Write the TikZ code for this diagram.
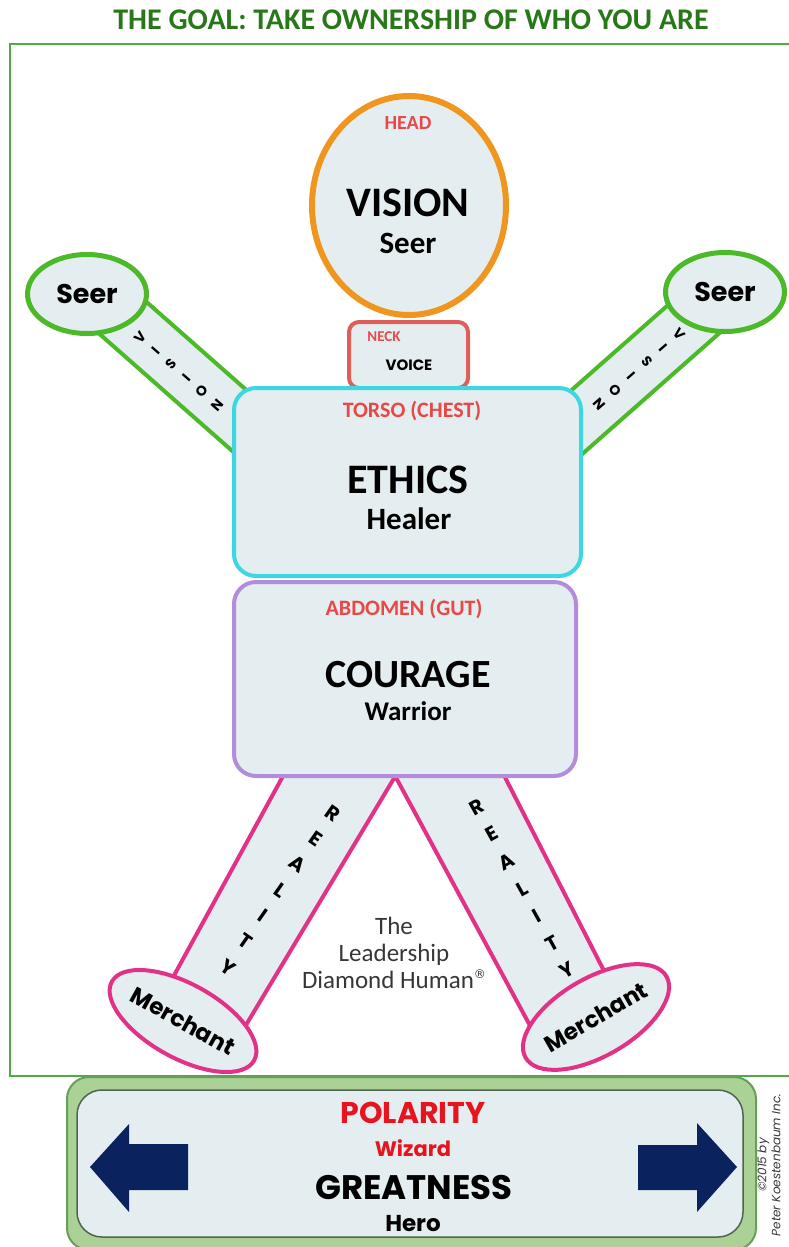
\documentclass[tikz,border=0pt]{standalone}
\usepackage{fontspec}
\setmainfont{Carlito}
\newfontfamily\gothic{Poppins}
\newfontfamily\dejavu{DejaVu Sans}
\usetikzlibrary{shapes.geometric}
\definecolor{titlegreen}{RGB}{40,120,25}
\definecolor{framegreen}{RGB}{80,170,70}
\definecolor{bodyfill}{RGB}{228,237,239}
\definecolor{headorange}{RGB}{240,150,30}
\definecolor{labred}{RGB}{232,72,72}
\definecolor{neckred}{RGB}{222,95,90}
\definecolor{torsocyan}{RGB}{60,215,225}
\definecolor{abdpurple}{RGB}{180,140,220}
\definecolor{armgreen}{RGB}{76,185,40}
\definecolor{legpink}{RGB}{225,50,135}
\definecolor{polred}{RGB}{230,20,30}
\definecolor{botfill}{RGB}{170,210,150}
\definecolor{botborder}{RGB}{100,160,90}
\definecolor{innerborder}{RGB}{80,100,80}
\definecolor{navy}{RGB}{10,35,95}
\definecolor{textgray}{RGB}{55,55,55}
\newcommand\myfs[1]{\fontsize{#1}{#1}\selectfont}
\begin{document}
\begin{tikzpicture}[x=1pt,y=-1pt,
  part/.style={draw, fill=bodyfill, inner sep=0pt},
  lbl/.style={font=\bfseries, inner sep=0pt},
  armband/.style={draw=armgreen, fill=bodyfill, line width=4pt, line join=round},
  legband/.style={draw=legpink, fill=bodyfill, line width=4pt, line join=round},
  armletter/.style={font=\gothic\bfseries\myfs{14}, inner sep=0pt},
  legletter/.style={font=\gothic\bfseries\myfs{20}, inner sep=0pt},
  arrowshape/.style={fill=navy, draw=none}]
\useasboundingbox (0,0) rectangle (789,1247);
% title and frame
\node[lbl, text=titlegreen, font=\bfseries\myfs{30}] (title) at (411,20) {THE GOAL: TAKE OWNERSHIP OF WHO YOU ARE};
\draw[framegreen, line width=2pt] (10,44) rectangle (794,1076);
% arms
\draw[armband] (120,278.6) -- (288,426.7) -- (251.6,468) -- (83.6,319.9) -- cycle;
\draw[armband] (698,278.6) -- (530,426.7) -- (566.4,468) -- (734.4,319.9) -- cycle;
% legs
\draw[legband] (286.3,770) -- (399,770) -- (237,1040) -- (160.6,1000) -- cycle;
\draw[legband] (391.9,770) -- (501.3,770) -- (613.8,990) -- (537.8,1040) -- cycle;
% hands and feet
\node[part, ellipse, draw=armgreen, line width=5pt, minimum width=119pt, minimum height=79pt,
  font=\gothic\bfseries\myfs{27}] (lseer) at (87,294) {Seer};
\node[part, ellipse, draw=armgreen, line width=5pt, minimum width=119pt, minimum height=79pt,
  font=\gothic\bfseries\myfs{27}] (rseer) at (725,292) {Seer};
\node[part, ellipse, draw=legpink, line width=4pt, minimum width=150pt, minimum height=74pt,
  rotate=-29, font=\gothic\bfseries\myfs{23}] (lmerch) at (183,1021) {Merchant};
\node[part, ellipse, draw=legpink, line width=4pt, minimum width=154pt, minimum height=78pt,
  rotate=30, font=\gothic\bfseries\myfs{23}] (rmerch) at (596,1017) {Merchant};
% arm letters
\foreach \ch [count=\i from 0] in {V,I,S,I,O,N} {
  \node[armletter, rotate=49] (la\i) at ({140+15.4*\i},{337+13.6*\i}) {\ch};
  \node[armletter, rotate=-49] (ra\i) at ({679-16*\i},{334+14*\i}) {\ch};
}
% leg letters
\foreach \ch [count=\i from 0] in {R,E,A,L,I,T,Y} {
  \node[legletter, rotate=-35] (ll\i) at ({333-17.5*\i},{813+25.7*\i}) {\ch};
  \node[legletter, rotate=29] (rl\i) at ({477+15*\i},{807+27.2*\i}) {\ch};
}
% neck, head, torso, abdomen
\node[part, draw=neckred, line width=4pt, rounded corners=10pt, minimum width=119pt, minimum height=66pt] (neck) at (408.5,355) {};
\node[part, ellipse, draw=headorange, line width=6pt, minimum width=194pt, minimum height=219pt] (head) at (409,205.5) {};
\node[part, draw=torsocyan, line width=4pt, rounded corners=22pt, minimum width=347pt, minimum height=188pt] (torso) at (407.5,482) {};
\node[part, draw=abdpurple, line width=4pt, rounded corners=22pt, minimum width=342pt, minimum height=194pt] (abd) at (405,679) {};
% texts
\node[lbl, text=labred, font=\bfseries\myfs{20}] (headlbl) at (408,123) {HEAD};
\node[lbl, font=\bfseries\myfs{42}] (vision) at (408,203) {VISION};
\node[lbl, font=\bfseries\myfs{31}] (seer) at (408,243) {Seer};
\node[lbl, text=labred, font=\bfseries\myfs{15}] (necklbl) at (384,337) {NECK};
\node[lbl, font=\gothic\bfseries\myfs{15}] (voice) at (409,365) {VOICE};
\node[lbl, text=labred, font=\bfseries\myfs{22}] (torsolbl) at (412,411) {TORSO (CHEST)};
\node[lbl, font=\bfseries\myfs{42}] (ethics) at (408,480) {ETHICS};
\node[lbl, font=\bfseries\myfs{31}] (healer) at (409,519) {Healer};
\node[lbl, text=labred, font=\bfseries\myfs{22}] (abdlbl) at (404,609) {ABDOMEN (GUT)};
\node[lbl, font=\bfseries\myfs{40}] (courage) at (408,675) {COURAGE};
\node[lbl, font=\bfseries\myfs{27}] (warrior) at (408,711) {Warrior};
\node[inner sep=0pt, text=textgray, align=center, font=\fontsize{25}{27}\selectfont] (ldh) at (394,953) {The\\Leadership\\Diamond Human{\raisebox{0.42em}{\dejavu\fontsize{12}{12}\selectfont ®}}};
% bottom
\node[draw=botborder, fill=botfill, line width=2pt, rounded corners=22pt, minimum width=689pt, minimum height=173pt] (botouter) at (411.5,1163.5) {};
\node[draw=innerborder, fill=bodyfill, line width=1.5pt, rounded corners=25pt, minimum width=666pt, minimum height=147pt] (botinner) at (410,1163.5) {};
\fill[arrowshape] (90,1167) -- (129,1124) -- (129,1144) -- (188,1144) -- (188,1190) -- (129,1190) -- (129,1212) -- cycle;
\fill[arrowshape] (737,1167) -- (697,1123) -- (697,1145) -- (638,1145) -- (638,1190) -- (697,1190) -- (697,1212) -- cycle;
\node[lbl, text=polred, font=\gothic\bfseries\myfs{30}] (polarity) at (413,1113) {POLARITY};
\node[lbl, text=polred, font=\gothic\bfseries\myfs{21}] (wizard) at (413,1148) {Wizard};
\node[lbl, font=\gothic\bfseries\myfs{34}] (greatness) at (414,1187) {GREATNESS};
\node[lbl, font=\gothic\bfseries\myfs{23}] (hero) at (413,1224) {Hero};
\node[inner sep=0pt, rotate=90, align=center, text=textgray, font=\gothic\itshape\fontsize{12}{14}\selectfont] (copy) at (769,1165) {\textcopyright 2015 by\\Peter Koestenbaum Inc.};
\end{tikzpicture}
\end{document}
